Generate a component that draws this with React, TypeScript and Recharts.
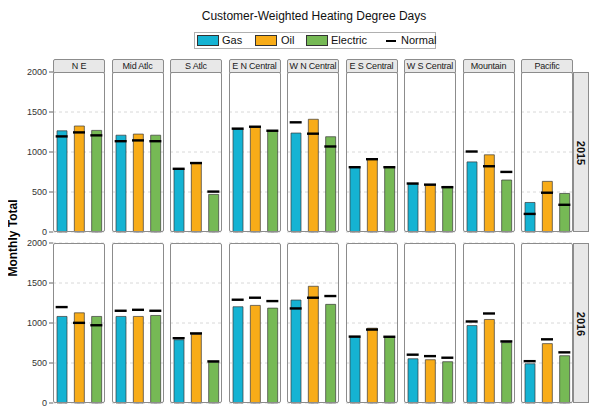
import React from "react";
import { ComposedChart, Bar, Scatter, Cell, XAxis, YAxis, CartesianGrid } from "recharts";

const regions = ["N E", "Mid Atlc", "S Atlc", "E N Central", "W N Central", "E S Central", "W S Central", "Mountain", "Pacific"];
const years = ["2015", "2016"];
const fuels = ["Gas", "Oil", "Electric"];
const fuelColors = ["#15b3d3", "#f8ac18", "#76b955"];
const yTicks = [0, 500, 1000, 1500, 2000];

// actual values, by region
const gas2015 = [1265, 1210, 785, 1287, 1237, 805, 600, 876, 369];
const oil2015 = [1325, 1224, 855, 1312, 1409, 906, 585, 965, 633];
const elec2015 = [1270, 1210, 470, 1262, 1191, 805, 570, 650, 482];
const gas2016 = [1082, 1082, 790, 1203, 1287, 825, 553, 968, 490];
const oil2016 = [1127, 1082, 859, 1220, 1459, 935, 541, 1044, 742];
const elec2016 = [1082, 1094, 511, 1186, 1233, 825, 516, 755, 591];

// normals, by region
const gasNorm2015 = [1195, 1135, 790, 1292, 1371, 810, 606, 1006, 226];
const oilNorm2015 = [1245, 1145, 862, 1316, 1229, 910, 592, 822, 491];
const elecNorm2015 = [1208, 1135, 505, 1266, 1069, 810, 560, 751, 340];
const gasNorm2016 = [1199, 1153, 810, 1291, 1182, 830, 604, 1019, 523];
const oilNorm2016 = [1002, 1165, 870, 1316, 1316, 918, 586, 1119, 796];
const elecNorm2016 = [972, 1153, 520, 1274, 1337, 828, 566, 770, 633];

const actual = [
  [gas2015, oil2015, elec2015],
  [gas2016, oil2016, elec2016],
];
const normal = [
  [gasNorm2015, oilNorm2015, elecNorm2015],
  [gasNorm2016, oilNorm2016, elecNorm2016],
];

const FONT = "'Liberation Sans', Arial, sans-serif";
const PANEL_W = 52;
const PANEL_H = 160;
const AXIS_W = 45;
const PAD = 6;
const rowTops = [72, 243];
const colLeft = (i: number) => 53 + i * 58.5;

const NormalMark = (p: any) => {
  if (p.cx == null || p.cy == null) return <g />;
  return <rect x={p.cx - 6} y={p.cy - 1.2} width={12} height={2.4} fill="#000" />;
};

function Panel({ row, col }: { row: number; col: number }) {
  const data = fuels.map((f, k) => ({
    fuel: f,
    value: actual[row][k][col],
    normal: normal[row][k][col],
  }));
  const withAxis = col === 0;
  const w = PANEL_W + (withAxis ? AXIS_W : 0);
  const left = colLeft(col) - (withAxis ? AXIS_W : 0);
  return (
    <>
      <div style={{ position: "absolute", left, top: rowTops[row] - PAD }}>
        <ComposedChart
          width={w}
          height={PANEL_H + PAD * 2}
          data={data}
          margin={{ top: PAD, right: 0, bottom: PAD, left: 0 }}
          barCategoryGap={0}
        >
          <CartesianGrid vertical={false} stroke="#d8d8d8" strokeDasharray="3 3" />
          <XAxis dataKey="fuel" hide />
          <YAxis
            domain={[0, 2000]}
            ticks={yTicks}
            hide={!withAxis}
            width={AXIS_W}
            axisLine={false}
            tickSize={4}
            tickLine={{ stroke: "#666" }}
            tick={{ fontSize: 9, fill: "#333", fontFamily: FONT }}
          />
          <Bar dataKey="value" barSize={10} stroke="#3a3a3a" strokeWidth={0.7} isAnimationActive={false}>
            {data.map((d, k) => (
              <Cell key={d.fuel} fill={fuelColors[k]} />
            ))}
          </Bar>
          <Scatter dataKey="normal" shape={NormalMark} isAnimationActive={false} />
        </ComposedChart>
      </div>
      <div
        style={{
          position: "absolute",
          left: colLeft(col),
          top: rowTops[row],
          width: PANEL_W,
          height: PANEL_H,
          boxSizing: "border-box",
          border: "1px solid #8c8c8c",
          borderRadius: 2,
          pointerEvents: "none",
        }}
      />
    </>
  );
}

export default function App() {
  return (
    <div style={{ position: "relative", width: 600, height: 418, margin: -8, background: "#fff", fontFamily: FONT, overflow: "hidden" }}>
      <div style={{ position: "absolute", left: 0, width: 628, top: 9, textAlign: "center", fontSize: 12, color: "#111" }}>
        Customer-Weighted Heating Degree Days
      </div>
      <div
        style={{
          position: "absolute",
          left: 194,
          top: 32,
          width: 242,
          height: 17,
          boxSizing: "border-box",
          border: "1px solid #b0b0b0",
          fontSize: 11,
          color: "#111",
        }}
      >
        {fuels.map((f, k) => (
          <React.Fragment key={f}>
            <div
              style={{
                position: "absolute",
                left: [2, 60, 111][k],
                top: 2,
                width: 22,
                height: 11,
                boxSizing: "border-box",
                background: fuelColors[k],
                border: "1px solid #333",
              }}
            />
            <div style={{ position: "absolute", left: [27, 86, 136][k], top: 1 }}>{f}</div>
          </React.Fragment>
        ))}
        <div style={{ position: "absolute", left: 191, top: 7, width: 10, height: 2, background: "#000" }} />
        <div style={{ position: "absolute", left: 206, top: 1 }}>Normal</div>
      </div>
      <div
        style={{
          position: "absolute",
          left: 13,
          top: 238,
          transform: "translate(-50%, -50%) rotate(-90deg)",
          fontSize: 12,
          fontWeight: "bold",
          whiteSpace: "nowrap",
        }}
      >
        Monthly Total
      </div>
      {regions.map((r, i) => (
        <div
          key={r}
          style={{
            position: "absolute",
            left: colLeft(i),
            top: 59,
            width: PANEL_W,
            height: 14,
            boxSizing: "border-box",
            border: "1px solid #8c8c8c",
            borderRadius: "2px 2px 0 0",
            background: "#e8e8e8",
            fontSize: 9,
            letterSpacing: -0.2,
            color: "#1a1a1a",
            textAlign: "center",
            lineHeight: "12px",
            whiteSpace: "nowrap",
            zIndex: 2,
          }}
        >
          {r}
        </div>
      ))}
      {years.map((y, row) =>
        regions.map((r, col) => <Panel key={y + r} row={row} col={col} />)
      )}
      {years.map((y, row) => (
        <div
          key={y}
          style={{
            position: "absolute",
            left: 573,
            top: rowTops[row],
            width: 16,
            height: PANEL_H,
            boxSizing: "border-box",
            border: "1px solid #8c8c8c",
            background: "#e8e8e8",
          }}
        >
          <div
            style={{
              position: "absolute",
              left: 7,
              top: 80,
              transform: "translate(-50%, -50%) rotate(90deg)",
              fontSize: 11,
              fontWeight: "bold",
              color: "#111",
            }}
          >
            {y}
          </div>
        </div>
      ))}
    </div>
  );
}
